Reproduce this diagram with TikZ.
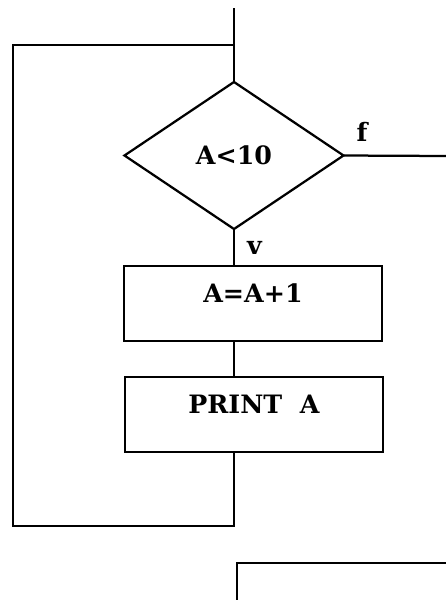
\documentclass[tikz,border=0pt]{standalone}
\usepackage{fontspec}
\setmainfont{DejaVu Serif}
\usepackage{tikz}
\usetikzlibrary{shapes.geometric}

\begin{document}
\begin{tikzpicture}[x=0.025cm, y=-0.025cm, line width=1.6pt,
  font=\fontsize{18}{21}\selectfont\bfseries,
  test/.style={draw, diamond, inner sep=0, outer sep=0,
    minimum width=5.475cm, minimum height=3.675cm},
  instr/.style={draw, rectangle, inner sep=0, outer sep=0,
    minimum width=6.45cm, text height=0.9cm, text depth=0.975cm}]
\useasboundingbox (0,0) rectangle (446,600);
% the test and the two steps of the loop
\node[test] (cond) at (234,155.5) {A<10};
\node[instr] (incr) at (253,303.5) {A=A+1};
\node[instr] (print) at (254,414.5) {PRINT~~A};
% loose ends
\coordinate (start) at (234,8);
\coordinate (merge) at (234,45);
\coordinate (back) at (234,526);
\coordinate (leftx) at (13,0);
\coordinate (exitf) at (446,156);
\coordinate (next) at (446,563);
\coordinate (down) at (237,600);
% flow lines
\draw (start) -- (cond.north);
\draw (cond.south) -- node[midway, right, inner sep=0.3cm] {v} (incr.north -| cond.south);
\draw (incr.south -| cond.south) -- (print.north -| cond.south);
\draw (print.south -| cond.south) -- (back) -| (leftx |- merge) -- (merge);
\draw (cond.east) -- node[pos=0.18, above, inner sep=0.32cm] {f} (exitf);
\draw (next) -| (down);
\end{tikzpicture}
\end{document}
